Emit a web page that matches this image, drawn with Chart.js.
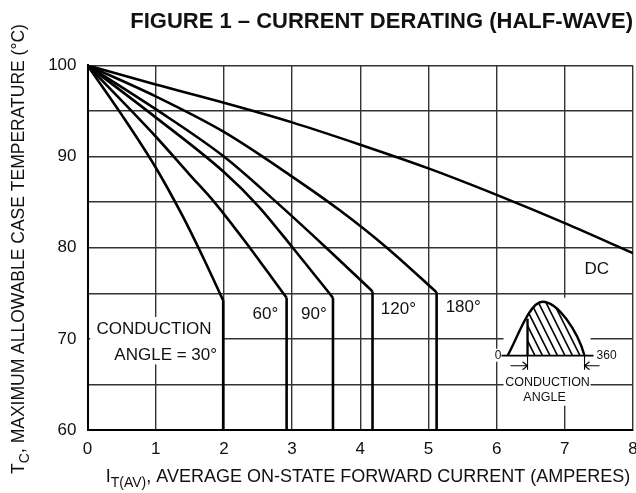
<!DOCTYPE html>
<html>
<head>
<meta charset="utf-8">
<script src="https://cdn.jsdelivr.net/npm/chart.js@4.4.1/dist/chart.umd.min.js"></script>
<style>
  html, body { margin: 0; padding: 0; background: #fff; }
  #wrap { width: 636px; height: 493px; }
</style>
</head>
<body>
<div id="wrap"><canvas id="deratingChart" width="636" height="493"></canvas></div>
<script>
const SANS = '"Liberation Sans", Arial, sans-serif';

// --- data (x = I_T(AV) amps, y = case temp degC) ---
const xRange = [0, 8];
const yRange = [60, 100];
const yLabelValues = [60, 70, 80, 90, 100];

const dcCurve = [[0, 100], [1, 97.9], [2, 95.9], [3, 93.75], [4, 91.3], [5, 88.7], [6, 85.8], [7, 82.7], [8, 79.4]];
const deg180 = [[0, 100], [1, 96.6], [2, 92.7], [3, 87.8], [3.7, 84.1], [4.39, 80], [5.12, 75.1]];
const deg120 = [[0, 100], [1, 95.2], [2, 90.0], [2.77, 85], [3.5, 80], [4.18, 75.2]];
const deg90 = [[0, 100], [1, 94.3], [2, 88.3], [2.5, 84.6], [3.01, 80], [3.6, 74.5]];
const deg60 = [[0, 100], [1, 92.2], [1.5, 88.0], [1.86, 85], [2.38, 80], [2.87, 75], [2.92, 74.5]];
const deg30 = [[0, 100], [0.5, 94.6], [1, 88.8], [1.4, 83.4], [1.71, 78.7], [1.99, 74.2]];

const angleCurves = [deg30, deg60, deg90, deg120, deg180];

// --- datasets ---
function toPoints(arr) {
    return arr.map(p => ({ x: p[0], y: p[1] }));
}

function curveSet(arr) {
    return {
        data: toPoints(arr),
        borderColor: '#000',
        borderWidth: 2.6,
        pointRadius: 0,
        cubicInterpolationMode: 'monotone',
        fill: false
    };
}

const datasets = [curveSet(dcCurve)];
angleCurves.forEach(c => {
    datasets.push(curveSet(c));
    // each half-wave curve drops straight down to the axis at its rated current
    const last = c[c.length - 1];
    datasets.push({
        data: toPoints([last, [last[0], yRange[0]]]),
        borderColor: '#000',
        borderWidth: 2.6,
        pointRadius: 0,
        tension: 0,
        fill: false
    });
});

// text written inside the plot (positions in data units)
const plotLabels = [
    { text: 'DC', x: 7.47, y: 77.6 },
    { text: '180°', x: 5.51, y: 73.5 },
    { text: '120°', x: 4.56, y: 73.2 },
    { text: '90°', x: 3.32, y: 72.7 },
    { text: '60°', x: 2.61, y: 72.7 }
];

// --- helpers ---
function drawRich(ctx, parts, cx, cy, size) {
    // parts: [{t, sub}] drawn left to right, centred on cx, baseline cy
    const subSize = Math.round(size * 0.8);
    let total = 0;
    parts.forEach(p => {
        ctx.font = (p.sub ? subSize : size) + 'px ' + SANS;
        p.w = ctx.measureText(p.t).width;
        total += p.w;
    });
    let x = cx - total / 2;
    ctx.textAlign = 'left';
    ctx.textBaseline = 'alphabetic';
    parts.forEach(p => {
        ctx.font = (p.sub ? subSize : size) + 'px ' + SANS;
        ctx.fillText(p.t, x, cy + (p.sub ? 5 : 0));
        x += p.w;
    });
}

function drawInset(ctx, ax, ay) {
    // little half-wave sketch with the hatched conduction angle
    ctx.save();
    ctx.fillStyle = '#fff';
    ctx.fillRect(ax - 4, ay - 58, 87, 108);
    ctx.fillRect(ax - 14, ay - 7, 10, 13);

    const wave = new Path2D();
    wave.moveTo(ax, ay);
    wave.bezierCurveTo(ax + 10, ay - 18, ax + 22, ay - 54, ax + 35, ay - 54);
    wave.bezierCurveTo(ax + 50, ay - 54, ax + 70, ay - 25, ax + 77, ay);

    // hatching
    ctx.save();
    const clip = new Path2D(wave);
    clip.closePath();
    ctx.clip(clip);
    ctx.beginPath();
    ctx.rect(ax + 20, ay - 60, 60, 60);
    ctx.clip();
    ctx.strokeStyle = '#000';
    ctx.lineWidth = 1.6;
    ctx.beginPath();
    for (let k = -40; k < 90; k += 7.5) {
        ctx.moveTo(ax + k, ay - 60);
        ctx.lineTo(ax + k + 32, ay + 4);
    }
    ctx.stroke();
    ctx.restore();

    ctx.strokeStyle = '#000';
    ctx.lineWidth = 2.4;
    ctx.stroke(wave);
    ctx.beginPath();
    ctx.moveTo(ax + 20, ay);
    ctx.lineTo(ax + 20, ay - 37);
    ctx.stroke();

    // baseline
    ctx.lineWidth = 1.8;
    ctx.beginPath();
    ctx.moveTo(ax - 6, ay);
    ctx.lineTo(ax + 86, ay);
    ctx.stroke();

    // dimension arrows
    ctx.lineWidth = 1.1;
    ctx.beginPath();
    ctx.moveTo(ax + 20, ay); ctx.lineTo(ax + 20, ay + 14);
    ctx.moveTo(ax + 77, ay); ctx.lineTo(ax + 77, ay + 14);
    ctx.moveTo(ax + 3, ay + 10); ctx.lineTo(ax + 20, ay + 10);
    ctx.moveTo(ax + 15, ay + 6); ctx.lineTo(ax + 20, ay + 10); ctx.lineTo(ax + 15, ay + 14);
    ctx.moveTo(ax + 92, ay + 10); ctx.lineTo(ax + 77, ay + 10);
    ctx.moveTo(ax + 82, ay + 6); ctx.lineTo(ax + 77, ay + 10); ctx.lineTo(ax + 82, ay + 14);
    ctx.stroke();

    ctx.fillStyle = '#111';
    ctx.font = '12px ' + SANS;
    ctx.textBaseline = 'middle';
    ctx.textAlign = 'right';
    ctx.fillText('0', ax - 6, ay);
    ctx.textAlign = 'left';
    ctx.fillText('360', ax + 89, ay);
    ctx.font = '12.5px ' + SANS;
    ctx.textAlign = 'center';
    ctx.fillText('CONDUCTION', ax + 40, ay + 27);
    ctx.fillText('ANGLE', ax + 37, ay + 42);
    ctx.restore();
}

const annotationPlugin = {
    id: 'derating-annotations',
    beforeDatasetsDraw(chart) {
        const { ctx, scales } = chart;
        const px = v => scales.x.getPixelForValue(v);
        const py = v => scales.y.getPixelForValue(v);
        ctx.save();

        // white patch behind the conduction angle note
        ctx.fillStyle = '#fff';
        ctx.fillRect(px(0.04), py(72.4), px(1.98) - px(0.04), py(67.2) - py(72.4));

        ctx.fillStyle = '#111';
        ctx.font = '17px ' + SANS;
        ctx.textBaseline = 'middle';
        ctx.textAlign = 'right';
        ctx.fillText('CONDUCTION', px(1.82), py(71.1));
        ctx.fillText('ANGLE = 30°', px(1.9), py(68.2));

        ctx.textAlign = 'center';
        plotLabels.forEach(l => ctx.fillText(l.text, px(l.x), py(l.y)));

        drawInset(ctx, px(6.16), py(68.15));
        ctx.restore();
    },
    afterDraw(chart) {
        const { ctx } = chart;
        ctx.save();
        ctx.fillStyle = '#111';
        // y axis title, rotated
        ctx.translate(24, 249);
        ctx.rotate(-Math.PI / 2);
        drawRich(ctx, [
            { t: 'T' }, { t: 'C', sub: true },
            { t: ', MAXIMUM ALLOWABLE CASE TEMPERATURE (°C)' }
        ], 0, 0, 17.5);
        ctx.restore();

        ctx.save();
        ctx.fillStyle = '#111';
        drawRich(ctx, [
            { t: 'I' }, { t: 'T(AV)', sub: true },
            { t: ', AVERAGE ON-STATE FORWARD CURRENT (AMPERES)' }
        ], 368, 482, 18);
        ctx.restore();
    }
};

const tickFont = { family: SANS, size: 17 };

new Chart(document.getElementById('deratingChart').getContext('2d'), {
    type: 'line',
    data: { datasets: datasets },
    options: {
        responsive: false,
        animation: false,
        events: [],
        layout: { padding: { left: 0, right: 3, top: 0, bottom: 0 } },
        plugins: {
            legend: { display: false },
            tooltip: { enabled: false },
            title: {
                display: true,
                text: 'FIGURE 1 – CURRENT DERATING (HALF-WAVE)',
                align: 'end',
                color: '#111',
                font: { family: SANS, size: 22, weight: 'bold', lineHeight: 1.2 },
                padding: { top: 9, bottom: 30 }
            }
        },
        scales: {
            x: {
                type: 'linear',
                min: xRange[0],
                max: xRange[1],
                ticks: { stepSize: 1, padding: 9, color: '#111', font: tickFont },
                grid: { color: '#333', lineWidth: 1.4, drawTicks: false },
                border: { color: '#000', width: 2 },
                afterFit(scale) {
                    scale.height = 63;
                    scale.paddingLeft = 0;
                    scale.paddingRight = 0;
                }
            },
            y: {
                type: 'linear',
                min: yRange[0],
                max: yRange[1],
                ticks: {
                    stepSize: 5,
                    padding: 11,
                    color: '#111',
                    font: tickFont,
                    callback: v => (yLabelValues.includes(v) ? String(v) : '')
                },
                grid: { color: '#333', lineWidth: 1.4, drawTicks: false },
                border: { color: '#000', width: 2 },
                afterFit(scale) {
                    scale.width = 87.5;
                }
            }
        }
    },
    plugins: [annotationPlugin]
});
</script>
</body>
</html>
